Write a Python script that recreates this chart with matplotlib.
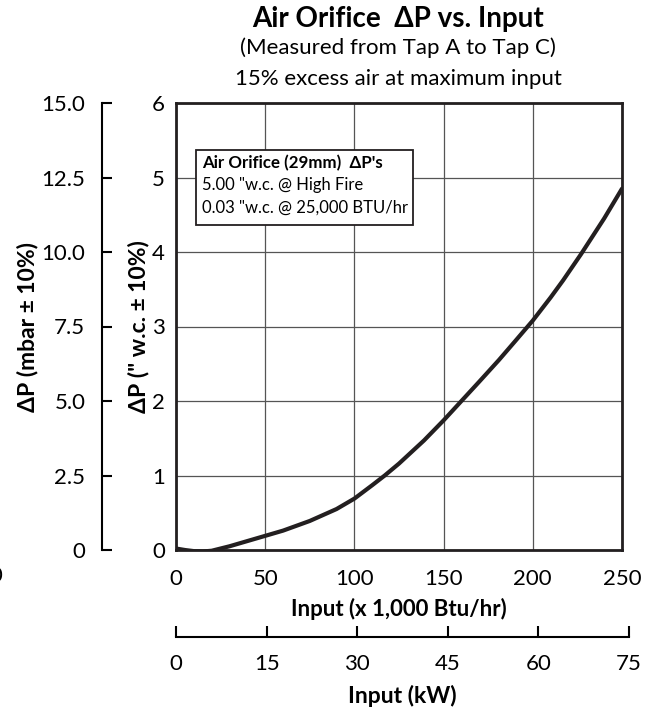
import matplotlib.pyplot as plt
from matplotlib.patches import Rectangle

plt.rcParams['font.family'] = ['Lato', 'DejaVu Sans']

# input (x1000 Btu/hr) vs dP ("w.c.)
btu = [0, 5, 10, 15, 20, 25, 30, 40, 50, 60, 75, 90, 100, 110, 117, 125, 139,
       150, 160, 170, 181, 190, 200, 210, 217, 227, 240, 250]
dp_wc = [0.02, 0.0, -0.015, -0.02, -0.01, 0.02, 0.05, 0.12, 0.19, 0.26, 0.39,
         0.55, 0.69, 0.87, 1.0, 1.16, 1.47, 1.74, 2.0, 2.26, 2.55, 2.80, 3.08,
         3.39, 3.62, 3.97, 4.45, 4.85]

btu_ticks = [0, 50, 100, 150, 200, 250]
wc_ticks = [0, 1, 2, 3, 4, 5, 6]
wc_labels = ['0', '1', '2', '3', '4', '5', '6']
mbar_ticks = [0, 2.5, 5.0, 7.5, 10.0, 12.5, 15.0]
mbar_labels = ['0', '2.5', '5.0', '7.5', '10.0', '12.5', '15.0']
kw_ticks = [0, 15, 30, 45, 60, 75]

box_lines = ['5.00 "w.c. @ High Fire', '0.03 "w.c. @ 25,000 BTU/hr']

W, H = 654, 708
fig = plt.figure(figsize=(W / 100, H / 100), dpi=100)

ax = fig.add_axes([176 / W, 1 - 550 / H, 446 / W, 447 / H])
ax.plot(btu, dp_wc, color='#231f20', lw=3.0, solid_capstyle='round',
        solid_joinstyle='round', zorder=3)
ax.set_xlim(0, 250)
ax.set_ylim(0, 6)
ax.set_xticks(btu_ticks)
ax.set_yticks(wc_ticks)
ax.set_yticklabels(wc_labels)
ax.grid(True, color='#555555', lw=0.9)
for s in ax.spines.values():
    s.set_linewidth(2.0)
    s.set_color('#231f20')
ax.tick_params(length=0, labelsize=16, pad=8)
ax.tick_params(axis='x', pad=14)
ax.set_xlabel('Input (x 1,000 Btu/hr)', fontsize=16, fontweight='bold', labelpad=6)
ax.set_ylabel('ΔP (" w.c. ± 10%)', fontsize=16.5, fontweight='bold', labelpad=2)

# info box
ax.add_patch(Rectangle((0.045, 0.727), 0.486, 0.168, transform=ax.transAxes,
                       facecolor='white', edgecolor='#231f20', lw=1.3, zorder=4))
ax.text(0.058, 0.866, "Air Orifice (29mm)  ΔP's", transform=ax.transAxes,
        fontsize=12.2, fontweight='bold', va='center', zorder=5)
ax.text(0.058, 0.817, box_lines[0], transform=ax.transAxes, fontsize=12,
        va='center', zorder=5)
ax.text(0.058, 0.765, box_lines[1], transform=ax.transAxes, fontsize=12,
        va='center', zorder=5)

# mbar axis on the left
axm = fig.add_axes([102 / W, 1 - 550 / H, 0.001, 447 / H])
axm.set_ylim(0, 15)
axm.set_yticks(mbar_ticks)
axm.set_yticklabels(mbar_labels)
axm.set_xticks([])
for k in ['top', 'right', 'bottom']:
    axm.spines[k].set_visible(False)
axm.spines['left'].set_linewidth(1.5)
axm.patch.set_visible(False)
axm.tick_params(axis='y', direction='in', length=7, width=1.5, labelsize=16, pad=12)
axm.set_ylabel('ΔP (mbar ± 10%)', fontsize=16.5, fontweight='bold', labelpad=2)

# kW axis at the bottom
axk = fig.add_axes([176 / W, 1 - 637 / H, 453 / W, 0.001])
axk.set_xlim(0, 75)
axk.set_xticks(kw_ticks)
axk.set_yticks([])
for k in ['top', 'right', 'left']:
    axk.spines[k].set_visible(False)
axk.spines['bottom'].set_linewidth(1.5)
axk.patch.set_visible(False)
axk.tick_params(axis='x', direction='in', length=8, width=1.5, labelsize=16, pad=12)
axk.set_xlabel('Input (kW)', fontsize=16.5, fontweight='bold', labelpad=8)

fig.text(398 / W, 1 - 19 / H, 'Air Orifice  ΔP vs. Input', ha='center', va='center',
         fontsize=20, fontweight='bold')
fig.text(398 / W, 1 - 48 / H, '(Measured from Tap A to Tap C)', ha='center',
         va='center', fontsize=16)
fig.text(398 / W, 1 - 79 / H, '15% excess air at maximum input', ha='center',
         va='center', fontsize=16)
fig.text(-4 / W, 1 - 576 / H, '0', ha='center', va='center', fontsize=16)

fig.savefig('out.png', dpi=100)
